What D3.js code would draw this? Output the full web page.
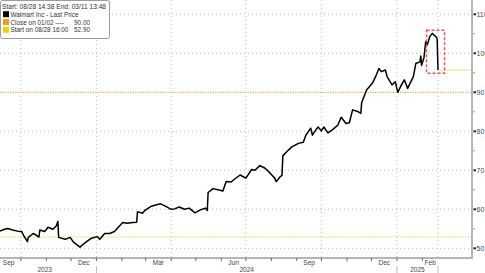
<!DOCTYPE html>
<html>
<head>
<meta charset="utf-8">
<title>Walmart Inc - Last Price</title>
<script src="https://d3js.org/d3.v7.min.js"></script>
<style>
  body { margin: 0; background: #fff; }
  svg { display: block; font-family: "Liberation Sans", Arial, sans-serif; }
</style>
</head>
<body>
<div id="chart"></div>
<script>
// price data
var dates = ["2023-08-28","2023-08-31","2023-09-05","2023-09-11","2023-09-15","2023-09-21","2023-09-27","2023-10-02","2023-10-04","2023-10-09","2023-10-10","2023-10-16","2023-10-23","2023-10-24","2023-10-30","2023-11-03","2023-11-09","2023-11-13","2023-11-15","2023-11-16","2023-11-24","2023-11-30","2023-12-04","2023-12-12","2023-12-15","2023-12-20","2023-12-26","2024-01-02","2024-01-05","2024-01-11","2024-01-17","2024-01-23","2024-01-29","2024-02-02","2024-02-08","2024-02-14","2024-02-19","2024-02-20","2024-02-26","2024-02-29","2024-03-07","2024-03-13","2024-03-19","2024-03-25","2024-04-01","2024-04-05","2024-04-11","2024-04-17","2024-04-23","2024-04-30","2024-05-06","2024-05-13","2024-05-15","2024-05-16","2024-05-22","2024-05-28","2024-06-03","2024-06-07","2024-06-13","2024-06-17","2024-06-24","2024-07-01","2024-07-08","2024-07-12","2024-07-18","2024-07-24","2024-07-30","2024-08-05","2024-08-07","2024-08-12","2024-08-14","2024-08-15","2024-08-20","2024-08-26","2024-09-03","2024-09-09","2024-09-12","2024-09-18","2024-09-20","2024-09-24","2024-09-27","2024-10-01","2024-10-04","2024-10-09","2024-10-15","2024-10-21","2024-10-25","2024-10-31","2024-11-04","2024-11-08","2024-11-14","2024-11-18","2024-11-19","2024-11-25","2024-12-02","2024-12-06","2024-12-10","2024-12-13","2024-12-18","2024-12-20","2024-12-26","2024-12-30","2025-01-02","2025-01-06","2025-01-10","2025-01-14","2025-01-21","2025-01-24","2025-01-29","2025-01-30","2025-01-31","2025-02-03","2025-02-05","2025-02-07","2025-02-10","2025-02-13","2025-02-18","2025-02-19","2025-02-20"];
var prices = [52.9,54.0,54.4,54.9,55.1,54.7,54.4,54.3,53.4,51.7,52.8,53.8,52.9,54.7,54.3,55.4,54.9,55.7,56.9,52.8,52.3,52.8,51.6,50.3,50.9,51.7,52.6,53.0,52.3,53.8,53.8,54.3,55.7,56.6,56.4,56.6,56.7,59.4,59.0,59.7,60.7,61.1,61.4,60.8,60.0,60.1,60.6,60.0,60.3,59.1,59.8,60.3,59.7,64.3,65.3,65.0,64.7,67.1,67.0,67.7,68.8,68.0,70.2,70.0,71.2,70.6,69.4,68.0,67.1,68.4,68.7,73.7,74.8,76.0,76.9,77.2,79.0,80.8,79.0,80.3,81.1,80.1,81.1,79.6,80.5,81.6,83.6,82.0,82.2,85.5,85.1,84.6,87.3,90.6,92.3,94.0,96.1,95.3,95.7,94.0,91.9,92.7,90.0,91.7,93.2,91.0,94.0,97.4,97.8,99.3,96.9,99.0,103.0,102.2,104.3,105.1,104.1,103.6,95.7];

var yTicks = [50, 60, 70, 80, 90, 100, 110];
var minorTicks = [55, 65, 75, 85, 95, 105];
var monthLabels = [["Sep","2023-09-01","2023-10-01"],["Dec","2023-12-01","2024-01-01"],["Mar","2024-03-01","2024-04-01"],["Jun","2024-06-01","2024-07-01"],["Sep","2024-09-01","2024-10-01"],["Dec","2024-12-01","2025-01-01"],["Feb","2025-02-01","2025-02-20"]];
var yearLabels = [["2023","2023-08-28","2024-01-01"],["2024","2024-01-01","2025-01-01"],["2025","2025-01-01","2025-02-20"]];
var gridDates = ["2023-10-01","2024-01-01","2024-04-01","2024-07-01","2024-10-01","2025-01-01","2025-02-20"];
var closeLine = 90.00;   // Close on 01/02
var startLine = 52.90;   // Start on 08/28 16:00
var boxDates = ["2025-02-06","2025-02-28"];
var boxValues = [105.9, 94.9];

var legendHeader = "Start: 08/28 14:38 End: 03/11 13:48";
var legendItems = [
  ["Walmart Inc - Last Price", "", "#000000"],
  ["Close on 01/02 ----", "90.00", "#f39c12"],
  ["Start on 08/28 16:00", "52.90", "#f1cf10"]
];

var W = 485, H = 273, right = 472, bottom = 258;
var parse = d3.timeParse("%Y-%m-%d");
var data = dates.map(function(d, i) { return { date: parse(d), value: prices[i] }; });

var x = d3.scaleTime().domain([parse("2023-08-28"), parse("2025-02-20")]).range([-7, 438]);
var y = d3.scaleLinear().domain([50, 110]).range([248.3, 14.3]);

var svg = d3.select("#chart").append("svg").attr("width", W).attr("height", H);

// grid
svg.selectAll(".hg").data(yTicks.filter(function(t) { return t != 90; })).enter().append("line")
  .attr("x1", 0).attr("x2", right)
  .attr("y1", function(d) { return y(d); }).attr("y2", function(d) { return y(d); })
  .attr("stroke", "#bcbcbc").attr("stroke-width", 1).attr("stroke-dasharray", "1,3");
svg.selectAll(".vg").data(gridDates).enter().append("line")
  .attr("x1", function(d) { return x(parse(d)); }).attr("x2", function(d) { return x(parse(d)); })
  .attr("y1", 0).attr("y2", bottom)
  .attr("stroke", "#bcbcbc").attr("stroke-width", 1).attr("stroke-dasharray", "1,3");

// reference lines
svg.append("line").attr("x1", 0).attr("x2", right).attr("y1", y(closeLine)).attr("y2", y(closeLine))
  .attr("stroke", "#f5b560").attr("stroke-width", 1.2).attr("stroke-dasharray", "1.5,1");
svg.append("line").attr("x1", 0).attr("x2", right).attr("y1", y(startLine)).attr("y2", y(startLine))
  .attr("stroke", "#efd850").attr("stroke-width", 1.2).attr("stroke-dasharray", "1.5,1");

var last = data[data.length - 1];
svg.append("line").attr("x1", x(last.date)).attr("x2", right).attr("y1", y(last.value)).attr("y2", y(last.value))
  .attr("stroke", "#f3e39a").attr("stroke-width", 1.3);

// price line
svg.append("path").datum(data)
  .attr("fill", "none").attr("stroke", "#000").attr("stroke-width", 1.5).attr("stroke-linejoin", "round")
  .attr("d", d3.line().x(function(d) { return x(d.date); }).y(function(d) { return y(d.value); }));

// highlight box
svg.append("rect")
  .attr("x", x(parse(boxDates[0]))).attr("y", y(boxValues[0]))
  .attr("width", x(parse(boxDates[1])) - x(parse(boxDates[0])))
  .attr("height", y(boxValues[1]) - y(boxValues[0]))
  .attr("fill", "none").attr("stroke", "#ff4f4f").attr("stroke-width", 1.5).attr("stroke-dasharray", "3,2");

// axes lines
svg.append("line").attr("x1", right).attr("x2", right).attr("y1", 0).attr("y2", bottom)
  .attr("stroke", "#b5b5b5").attr("stroke-width", 2);
svg.append("line").attr("x1", 0).attr("x2", right + 1).attr("y1", bottom).attr("y2", bottom)
  .attr("stroke", "#b5b5b5").attr("stroke-width", 2);

// y ticks + labels
svg.selectAll(".yt").data(yTicks).enter().append("rect")
  .attr("x", right + 1.5).attr("y", function(d) { return y(d) - 1; }).attr("width", 2.5).attr("height", 2)
  .attr("fill", "#222");
svg.selectAll(".ym").data(minorTicks).enter().append("line")
  .attr("x1", right + 1).attr("x2", right + 3).attr("y1", function(d) { return y(d); }).attr("y2", function(d) { return y(d); })
  .attr("stroke", "#999").attr("stroke-width", 1);
svg.selectAll(".yl").data(yTicks).enter().append("text")
  .attr("x", right + 4.5).attr("y", function(d) { return y(d) + 2.5; })
  .attr("font-size", 7).attr("fill", "#444")
  .text(function(d) { return d; });

// x month ticks
var months = d3.timeMonth.range(parse("2023-09-01"), parse("2025-02-21"));
svg.selectAll(".xt").data(months).enter().append("line")
  .attr("x1", function(d) { return x(d); }).attr("x2", function(d) { return x(d); })
  .attr("y1", bottom).attr("y2", bottom + 3)
  .attr("stroke", "#666").attr("stroke-width", 1);
svg.selectAll(".ml").data(monthLabels).enter().append("text")
  .attr("x", function(d) { return (x(parse(d[1])) + x(parse(d[2]))) / 2; }).attr("y", 265)
  .attr("text-anchor", "middle").attr("font-size", 6.5).attr("fill", "#444")
  .text(function(d) { return d[0]; });
svg.selectAll(".yrs").data(["2024-01-01","2025-01-01","2025-02-20"]).enter().append("line")
  .attr("x1", function(d) { return x(parse(d)); }).attr("x2", function(d) { return x(parse(d)); })
  .attr("y1", 266).attr("y2", H)
  .attr("stroke", "#bbb").attr("stroke-width", 1);
svg.selectAll(".yrl").data(yearLabels).enter().append("text")
  .attr("x", function(d) { return (x(parse(d[1])) + x(parse(d[2]))) / 2; }).attr("y", 272)
  .attr("text-anchor", "middle").attr("font-size", 6.5).attr("fill", "#444")
  .text(function(d) { return d[0]; });

// legend
var lg = svg.append("g");
lg.append("rect").attr("x", 0.5).attr("y", 0.5).attr("width", 109).attr("height", 38).attr("rx", 2)
  .attr("fill", "#fff").attr("stroke", "#9a9a9a").attr("stroke-width", 1);
lg.append("text").attr("x", 2).attr("y", 8.5).attr("font-size", 6.6).attr("fill", "#333").text(legendHeader);
var item = lg.selectAll(".li").data(legendItems).enter().append("g")
  .attr("transform", function(d, i) { return "translate(0," + (16.7 + i * 7.8) + ")"; });
item.append("rect").attr("x", 3).attr("y", -5.5).attr("width", 6).attr("height", 6)
  .attr("fill", function(d) { return d[2]; });
item.append("text").attr("x", 10.5).attr("y", 0).attr("font-size", 6.4).attr("fill", "#333")
  .text(function(d) { return d[0]; });
item.append("text").attr("x", 90).attr("y", 0).attr("font-size", 6.4).attr("fill", "#333").attr("text-anchor", "end")
  .text(function(d) { return d[1]; });
</script>
</body>
</html>
